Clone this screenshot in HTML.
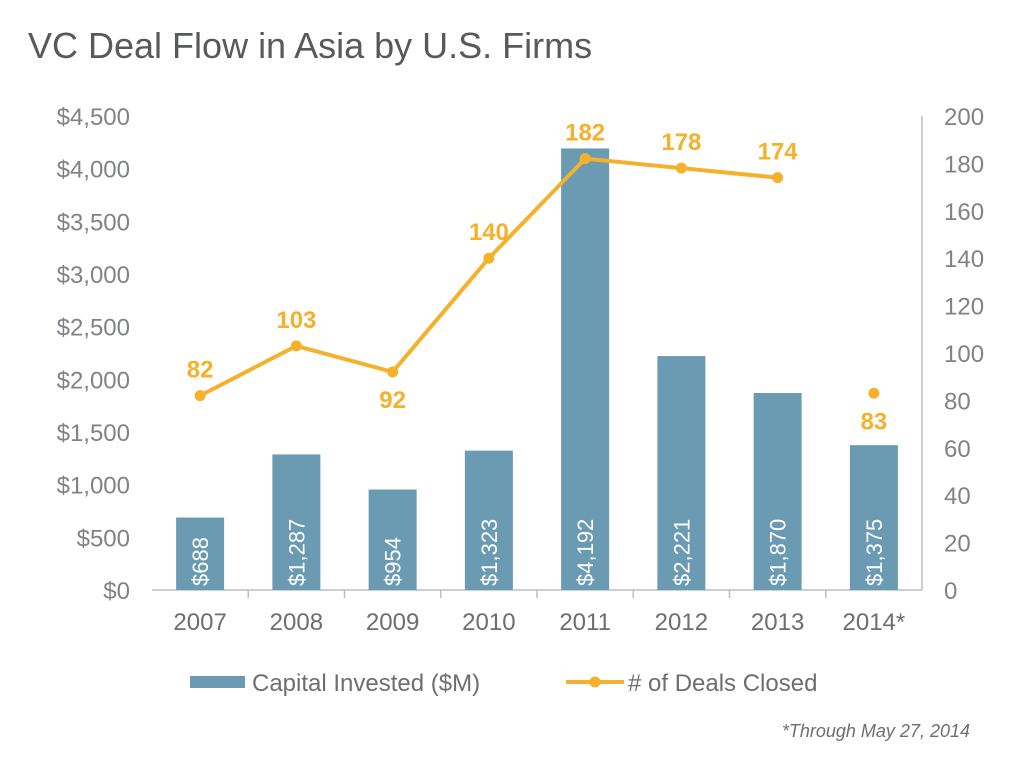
<!DOCTYPE html>
<html><head><meta charset="utf-8">
<style>
body{margin:0;background:#fff;}
svg{display:block;font-family:"Liberation Sans",sans-serif;}
</style></head><body>
<svg id="chart" width="1024" height="760">
<text x="28" y="58" font-size="36" fill="#58595b">VC Deal Flow in Asia by U.S. Firms</text>
<g id="axes"></g>
<g id="bars"></g>
<g id="line"></g>
<g>
<rect x="190" y="676" width="55" height="12" fill="#6b9ab3"/>
<text x="252" y="691" font-size="24" fill="#6d6e71">Capital Invested ($M)</text>
<line x1="566" y1="682" x2="624" y2="682" stroke="#f5b12c" stroke-width="4"/>
<circle cx="595" cy="682" r="5.5" fill="#f5b12c"/>
<text x="628" y="691" font-size="24" fill="#6d6e71"># of Deals Closed</text>
</g>
<text x="970" y="737" font-size="18" font-style="italic" fill="#6d6e71" text-anchor="end">*Through May 27, 2014</text>
</svg>
<script>
const categories=["2007","2008","2009","2010","2011","2012","2013","2014*"];
const capital=[688,1287,954,1323,4192,2221,1870,1375];
const capitalLabels=["$688","$1,287","$954","$1,323","$4,192","$2,221","$1,870","$1,375"];
const deals=[82,103,92,140,182,178,174,83];
const leftTicks=[0,500,1000,1500,2000,2500,3000,3500,4000,4500];
const leftTickLabels=["$0","$500","$1,000","$1,500","$2,000","$2,500","$3,000","$3,500","$4,000","$4,500"];
const rightTicks=[0,20,40,60,80,100,120,140,160,180,200];
const NS="http://www.w3.org/2000/svg";
const X0=152,X1=922,Y0=590,Y1=116;
const step=(X1-X0)/categories.length;
const xs=i=>X0+step*(i+0.5);
const yL=v=>Y0-(v/4500)*(Y0-Y1);
const yR=v=>Y0-(v/200)*(Y0-Y1);
function mk(tag,attrs,parent,txt){const e=document.createElementNS(NS,tag);for(const k in attrs)e.setAttribute(k,attrs[k]);if(txt!=null)e.textContent=txt;parent.appendChild(e);return e;}
const axes=document.getElementById('axes');
leftTicks.forEach((t,i)=>{
 const e=mk('text',{x:130,y:yL(t)+9,'font-size':24,fill:'#808285','text-anchor':'end'},axes,leftTickLabels[i]);
 
 
});
rightTicks.forEach(t=>{
 const e=mk('text',{x:944,y:yR(t)+9,'font-size':24,fill:'#808285'},axes,String(t));
 
 
});
const xa=mk('line',{x1:X0,y1:Y0,x2:X1,y2:Y0,stroke:'#bcbec0','stroke-width':1.5},axes);


const ra=mk('line',{x1:X1,y1:Y1,x2:X1,y2:Y0,stroke:'#bcbec0','stroke-width':1.5},axes);


categories.forEach((c,i)=>{
 if(i>0){const tk=mk('line',{x1:X0+step*i,y1:Y0,x2:X0+step*i,y2:Y0+8,stroke:'#bcbec0','stroke-width':1.5},axes);
 
 }
 const e=mk('text',{x:xs(i),y:630,'font-size':24,fill:'#6d6e71','text-anchor':'middle'},axes,c);
 
 
});
const bars=document.getElementById('bars');
capital.forEach((v,i)=>{
 const r=mk('rect',{x:xs(i)-24,y:yL(v),width:48,height:Y0-yL(v),fill:'#6b9ab3'},bars);
 
 
 const t=mk('text',{x:0,y:0,'font-size':22,fill:'#fff',transform:`translate(${xs(i)+8},${Y0-4}) rotate(-90)`},bars,capitalLabels[i]);
 
 
});
const line=document.getElementById('line');
const pts=deals.slice(0,7).map((d,i)=>xs(i)+','+yR(d)).join(' ');
const pl=mk('polyline',{points:pts,fill:'none',stroke:'#f5b12c','stroke-width':4,'stroke-linejoin':'round'},line);


deals.forEach((d,i)=>{
 const c=mk('circle',{cx:xs(i),cy:yR(d),r:5.5,fill:'#f5b12c'},line);
 
 
 const below=(i===2||i===7);
 const ly=below?yR(d)+36:yR(d)-18;
 const t=mk('text',{x:xs(i),y:ly,'font-size':24,'font-weight':'bold',fill:'#f5b12c','text-anchor':'middle'},line,String(d));
 
 
});
</script>
</body></html>
